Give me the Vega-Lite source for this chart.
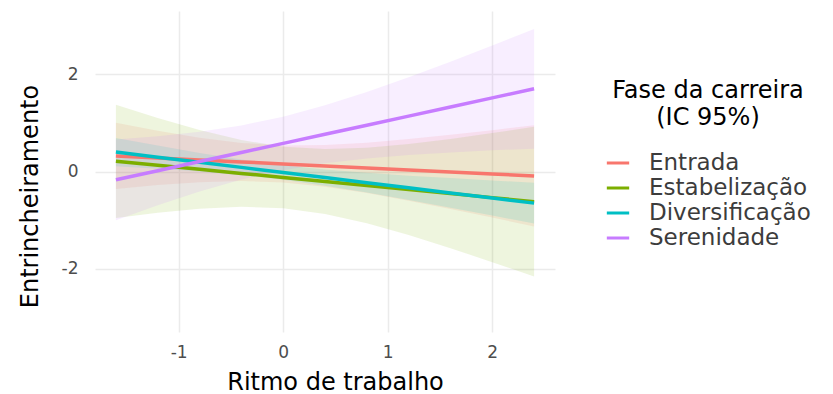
{
  "$schema": "https://vega.github.io/schema/vega-lite/v6.json",
  "width": 460,
  "height": 321,
  "autosize": {"type": "none"},
  "padding": {"left": 95, "top": 11, "right": 278, "bottom": 62},
  "background": "white",
  "config": {
    "view": {"stroke": null},
    "font": "DejaVu Sans",
    "axis": {
      "grid": true,
      "gridColor": "#EBEBEB",
      "gridWidth": 1.5,
      "domain": false,
      "ticks": false,
      "labelFont": "DejaVu Sans",
      "labelFontSize": 17,
      "labelColor": "#4D4D4D",
      "labelExpr": "replace(datum.label, '−', '-')",
      "titleFont": "DejaVu Sans",
      "titleFontSize": 24,
      "titleFontWeight": "normal",
      "titleColor": "#000000"
    }
  },
  "data": {
    "values": [
      {"x": -1.6, "fase": "Entrada", "y": 0.320, "lo": -0.360, "hi": 1.000},
      {"x": -1.2, "fase": "Entrada", "y": 0.279, "lo": -0.280, "hi": 0.838},
      {"x": -0.8, "fase": "Entrada", "y": 0.238, "lo": -0.219, "hi": 0.695},
      {"x": -0.4, "fase": "Entrada", "y": 0.197, "lo": -0.194, "hi": 0.588},
      {"x": 0.0, "fase": "Entrada", "y": 0.156, "lo": -0.224, "hi": 0.536},
      {"x": 0.4, "fase": "Entrada", "y": 0.115, "lo": -0.313, "hi": 0.543},
      {"x": 0.8, "fase": "Entrada", "y": 0.074, "lo": -0.444, "hi": 0.592},
      {"x": 1.2, "fase": "Entrada", "y": 0.033, "lo": -0.600, "hi": 0.666},
      {"x": 1.6, "fase": "Entrada", "y": -0.008, "lo": -0.770, "hi": 0.754},
      {"x": 2.0, "fase": "Entrada", "y": -0.049, "lo": -0.948, "hi": 0.850},
      {"x": 2.4, "fase": "Entrada", "y": -0.090, "lo": -1.130, "hi": 0.950},
      {"x": -1.6, "fase": "Estabelização", "y": 0.210, "lo": -0.955, "hi": 1.375},
      {"x": -1.2, "fase": "Estabelização", "y": 0.127, "lo": -0.847, "hi": 1.101},
      {"x": -0.8, "fase": "Estabelização", "y": 0.044, "lo": -0.764, "hi": 0.852},
      {"x": -0.4, "fase": "Estabelização", "y": -0.039, "lo": -0.724, "hi": 0.646},
      {"x": 0.0, "fase": "Estabelização", "y": -0.122, "lo": -0.755, "hi": 0.511},
      {"x": 0.4, "fase": "Estabelização", "y": -0.205, "lo": -0.873, "hi": 0.463},
      {"x": 0.8, "fase": "Estabelização", "y": -0.288, "lo": -1.065, "hi": 0.489},
      {"x": 1.2, "fase": "Estabelização", "y": -0.371, "lo": -1.307, "hi": 0.565},
      {"x": 1.6, "fase": "Estabelização", "y": -0.454, "lo": -1.577, "hi": 0.669},
      {"x": 2.0, "fase": "Estabelização", "y": -0.537, "lo": -1.864, "hi": 0.790},
      {"x": 2.4, "fase": "Estabelização", "y": -0.620, "lo": -2.160, "hi": 0.920},
      {"x": -1.6, "fase": "Diversificação", "y": 0.400, "lo": 0.110, "hi": 0.690},
      {"x": -1.2, "fase": "Diversificação", "y": 0.295, "lo": 0.058, "hi": 0.533},
      {"x": -0.8, "fase": "Diversificação", "y": 0.190, "lo": -0.002, "hi": 0.382},
      {"x": -0.4, "fase": "Diversificação", "y": 0.085, "lo": -0.075, "hi": 0.245},
      {"x": 0.0, "fase": "Diversificação", "y": -0.020, "lo": -0.170, "hi": 0.130},
      {"x": 0.4, "fase": "Diversificação", "y": -0.125, "lo": -0.291, "hi": 0.041},
      {"x": 0.8, "fase": "Diversificação", "y": -0.230, "lo": -0.432, "hi": -0.028},
      {"x": 1.2, "fase": "Diversificação", "y": -0.335, "lo": -0.585, "hi": -0.085},
      {"x": 1.6, "fase": "Diversificação", "y": -0.440, "lo": -0.744, "hi": -0.136},
      {"x": 2.0, "fase": "Diversificação", "y": -0.545, "lo": -0.906, "hi": -0.184},
      {"x": 2.4, "fase": "Diversificação", "y": -0.650, "lo": -1.070, "hi": -0.230},
      {"x": -1.6, "fase": "Serenidade", "y": -0.170, "lo": -1.000, "hi": 0.660},
      {"x": -1.2, "fase": "Serenidade", "y": 0.017, "lo": -0.692, "hi": 0.726},
      {"x": -0.8, "fase": "Serenidade", "y": 0.204, "lo": -0.409, "hi": 0.817},
      {"x": -0.4, "fase": "Serenidade", "y": 0.391, "lo": -0.165, "hi": 0.947},
      {"x": 0.0, "fase": "Serenidade", "y": 0.578, "lo": 0.028, "hi": 1.128},
      {"x": 0.4, "fase": "Serenidade", "y": 0.765, "lo": 0.169, "hi": 1.361},
      {"x": 0.8, "fase": "Serenidade", "y": 0.952, "lo": 0.268, "hi": 1.636},
      {"x": 1.2, "fase": "Serenidade", "y": 1.139, "lo": 0.340, "hi": 1.939},
      {"x": 1.6, "fase": "Serenidade", "y": 1.326, "lo": 0.393, "hi": 2.259},
      {"x": 2.0, "fase": "Serenidade", "y": 1.513, "lo": 0.435, "hi": 2.591},
      {"x": 2.4, "fase": "Serenidade", "y": 1.700, "lo": 0.470, "hi": 2.930}
    ]
  },
  "encoding": {
    "x": {
      "field": "x",
      "type": "quantitative",
      "scale": {"domain": [-1.8, 2.6], "nice": false, "zero": false},
      "axis": {
        "values": [-1, 0, 1, 2],
        "title": "Ritmo de trabalho",
        "labelPadding": 12,
        "titleX": 240,
        "titleY": 57,
        "titleBaseline": "alphabetic"
      }
    },
    "color": {
      "field": "fase",
      "type": "nominal",
      "scale": {
        "domain": ["Entrada", "Estabelização", "Diversificação", "Serenidade"],
        "range": ["#F8766D", "#7CAE00", "#00BFC4", "#C77CFF"]
      },
      "legend": {
        "orient": "none",
        "legendX": 510,
        "legendY": 68,
        "padding": 0,
        "title": ["Fase da carreira", "(IC 95%)"],
        "titleFont": "DejaVu Sans",
        "titleFontSize": 24,
        "titleFontWeight": "normal",
        "titleColor": "#000000",
        "titleAnchor": "middle",
        "titleLimit": 400,
        "titleLineHeight": 27,
        "titlePadding": 20,
        "labelFont": "DejaVu Sans",
        "labelFontSize": 23,
        "labelLimit": 300,
        "labelColor": "#3C3C3C",
        "labelOffset": 18,
        "symbolType": "stroke",
        "symbolStrokeWidth": 3,
        "symbolSize": 500,
        "symbolOpacity": 1,
        "rowPadding": 0
      }
    }
  },
  "layer": [
    {
      "mark": {"type": "area", "opacity": 0.13},
      "encoding": {
        "y": {
          "field": "lo",
          "type": "quantitative",
          "scale": {"domain": [-3.3, 3.3], "nice": false, "zero": false},
          "axis": {
            "values": [-2, 0, 2],
            "title": "Entrincheiramento",
            "labelPadding": 17,
            "titleX": -58,
            "titleY": 185,
            "titleBaseline": "alphabetic"
          }
        },
        "y2": {"field": "hi"}
      }
    },
    {
      "mark": {"type": "line", "strokeWidth": 3.5},
      "encoding": {
        "y": {"field": "y", "type": "quantitative"}
      }
    }
  ]
}
